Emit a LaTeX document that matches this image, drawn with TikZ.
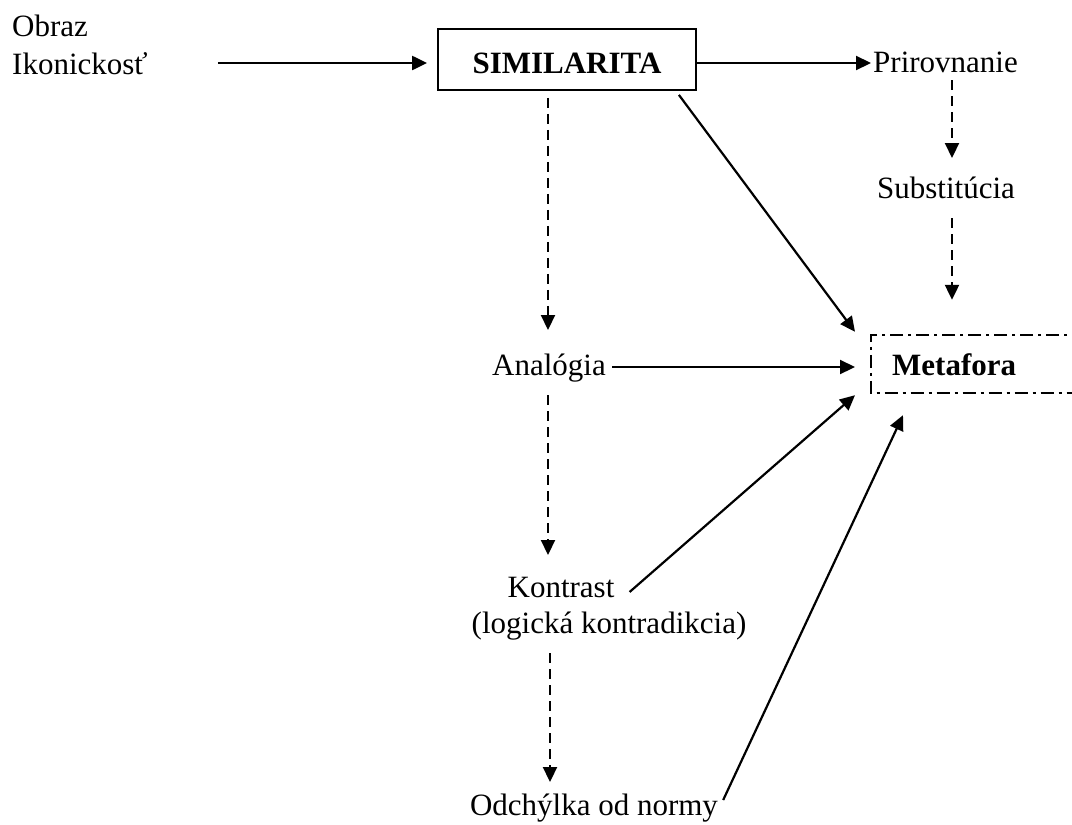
\documentclass[tikz,border=0pt]{standalone}
\usepackage{fontspec}
\setmainfont{Liberation Serif}
\usetikzlibrary{arrows.meta}
\tikzset{
  lbl/.style={inner sep=0pt, font=\fontsize{31}{37}\selectfont},
  arr/.style={line width=2.2pt, -{Triangle[length=15pt,width=14pt]}},
  darr/.style={line width=2.2pt, dash pattern=on 10pt off 6pt, -{Triangle[length=15pt,width=14pt]}},
  dashdotline/.style={line width=2pt, dash pattern=on 13pt off 5pt on 3pt off 5pt},
  boxnode/.style={lbl, draw, line width=1.8pt, font=\fontsize{31}{37}\selectfont\bfseries}
}
\begin{document}
\begin{tikzpicture}[x=1pt,y=-1pt]
\useasboundingbox (0,0) rectangle (1072,825);
% nodes
\node[lbl, anchor=base west] (obraz) at (12,36) {Obraz};
\node[lbl, anchor=base west] (ikon) at (12,74) {Ikonickosť};
\node[boxnode, anchor=base, text height=44pt, text depth=17pt, minimum width=258pt] (sim) at (567,73) {SIMILARITA};
\node[lbl, anchor=base west] (prir) at (873,72) {Prirovnanie};
\node[lbl, anchor=base] (subst) at (946,198) {Substitúcia};
\node[lbl, anchor=base west, inner xsep=21pt, text height=40pt, text depth=18pt, font=\fontsize{31}{37}\selectfont\bfseries] (meta) at (871,375) {Metafora};
\node[lbl, anchor=base] (anal) at (549,375) {Analógia};
\node[lbl, anchor=base] (kontr) at (561,597) {Kontrast};
\node[lbl, anchor=base] (logk) at (609,633) {(logická kontradikcia)};
\node[lbl, anchor=base] (odch) at (594,815) {Odchýlka od normy};
% metafora frame (open to the right)
\draw[dashdotline] ([xshift=240pt]meta.north west) -- (meta.north west) -- (meta.south west) -- ([xshift=240pt]meta.south west);
% connectors
\coordinate (s1) at ([xshift=70pt,yshift=11pt]ikon.base east);
\draw[arr, shorten >=10pt] (s1) -- (s1 -| sim.west);
\draw[arr, shorten >=2pt] (sim.east |- s1) -- (prir.west |- s1);
\draw[darr] ([xshift=79pt,yshift=-8pt]prir.base west) -- ([xshift=6pt,yshift=40pt]subst.base);
\draw[darr] ([xshift=6pt,yshift=-20pt]subst.base) -- ([xshift=81pt,yshift=35pt]meta.north west);
\draw[arr] ([xshift=-18pt,yshift=-4pt]sim.south east) -- ([xshift=-16pt,yshift=3pt]meta.north west);
\draw[darr] ([xshift=-19pt,yshift=-7pt]sim.south) -- ([xshift=-1pt,yshift=45pt]anal.base);
\coordinate (s2) at ([xshift=6pt,yshift=8pt]anal.base east);
\draw[arr, shorten >=16pt] (s2) -- (s2 -| meta.west);
\draw[darr] ([xshift=-1pt,yshift=-20pt]anal.base) -- ([xshift=-13pt,yshift=42pt]kontr.base);
\draw[arr] ([xshift=15pt,yshift=5pt]kontr.base east) -- ([xshift=-16pt,yshift=-2pt]meta.south west);
\draw[darr] ([xshift=-59pt,yshift=-20pt]logk.base) -- ([xshift=-44pt,yshift=33pt]odch.base);
\draw[arr] ([xshift=5pt,yshift=15pt]odch.base east) -- ([xshift=32pt,yshift=-22pt]meta.south west);
\end{tikzpicture}
\end{document}
